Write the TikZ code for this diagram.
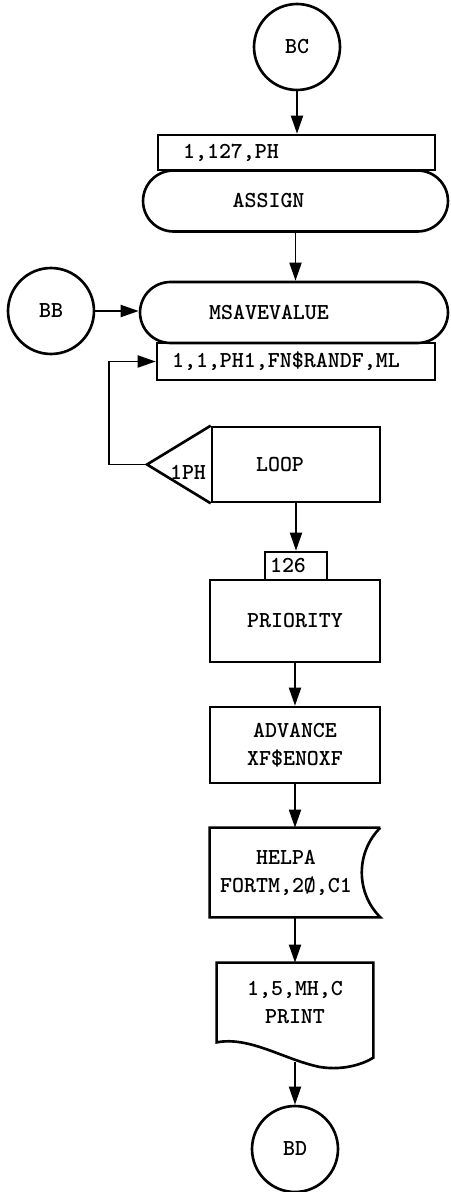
\documentclass[tikz,border=0pt]{standalone}
\usepackage{fontspec}
\usetikzlibrary{shapes.misc, arrows.meta}

\begin{document}
\begin{tikzpicture}[x=0.02cm, y=-0.02cm,
        every node/.style={font=\ttfamily\bfseries\fontsize{13}{16}\selectfont},
        conn/.style={circle, draw=black, line width=1.5pt, minimum size=1.72cm, inner sep=0pt},
        stadium/.style={rounded rectangle, draw=black, line width=1.5pt, minimum width=6.1cm, minimum height=1.22cm, inner sep=0pt},
        field/.style={rectangle, draw=black, line width=1.5pt, align=left, inner ysep=0pt},
        block/.style={rectangle, draw=black, line width=1.5pt, minimum width=3.4cm, align=center},
        outline/.style={draw=black, line width=1.5pt},
        arrow/.style={line width=1.1pt, -{Triangle[length=0.36cm, width=0.24cm]}}
    ]
    \useasboundingbox (0,0) rectangle (450,1192);

    \node[conn] (bc) at (297,47) {BC};
    \node[field, minimum width=5.54cm, minimum height=0.7cm, text width=4.54cm, inner xsep=0.5cm] (assignop) at (296.5,152.5) {1,127,PH};
    \node[stadium, label={[xshift=-0.54cm]center:ASSIGN}] (assign) at (295.5,201) {};

    \node[conn] (bb) at (51,311) {BB};
    \node[stadium, minimum width=6.16cm, label={[xshift=-0.5cm]center:MSAVEVALUE}] (msave) at (294,312.5) {};
    \node[field, minimum width=5.56cm, minimum height=0.74cm, text width=4.96cm, inner xsep=0.3cm] (msaveop) at (296,361.5) {1,1,PH1,FN\$RANDF,ML};

    \node[block, minimum width=3.36cm, minimum height=1.5cm, label={[xshift=-0.32cm]center:LOOP}] (loop) at (296,464.5) {};
    \coordinate (looptip) at (147,464.5);
    \draw[outline] (loop.north west) -- (looptip) -- (loop.south west);
    \node (loopcount) at (188,472) {1PH};

    \node[field, minimum width=1.24cm, minimum height=0.56cm, text width=1.04cm, inner xsep=0.1cm] (prioop) at (296,566) {126};
    \node[block, minimum height=1.64cm] (priority) at (295,621) {PRIORITY};
    \node[block, minimum height=1.52cm] (advance) at (295,745) {ADVANCE\\XF\$ENOXF};

    % help block, right side hollowed
    \node[minimum width=3.4cm, minimum height=1.78cm, label={[align=center, xshift=-0.18cm]center:HELPA\\FORTM,2Ø,C1}] (helpa) at (295,872.5) {};
    \draw[outline] (helpa.north east) -- (helpa.north west) -- (helpa.south west) -- (helpa.south east) to[bend left=45] (helpa.north east);

    % print block, document shape
    \node[minimum width=3.12cm, minimum height=1.58cm, align=center] (print) at (295,1002.5) {1,5,MH,C\\PRINT};
    \draw[outline] (print.south west) -- (print.north west) -- (print.north east) -- ++(0,95)
        .. controls (365,1063) and (345,1071) .. (320,1067)
        .. controls (285,1060) and (250,1036) .. (print.south west) -- cycle;
    \coordinate (printout) at (295,1062);

    \node[conn] (bd) at (295,1149) {BD};

    \draw[arrow] (bc.south) -- (bc.south |- assignop.north);
    \draw[arrow] (assign.south) -- (assign.south |- msave.north);
    \draw[arrow] (bb) -- (bb -| msave.west);
    \draw[arrow] (looptip) -- ++(-38,0) |- (msaveop.west);
    \draw[arrow] (loop.south) -- (prioop.north);
    \draw[arrow] (priority) -- (advance);
    \draw[arrow] (advance) -- (helpa);
    \draw[arrow] (helpa) -- (print);
    \draw[arrow] (printout) -- (bd);
\end{tikzpicture}
\end{document}
